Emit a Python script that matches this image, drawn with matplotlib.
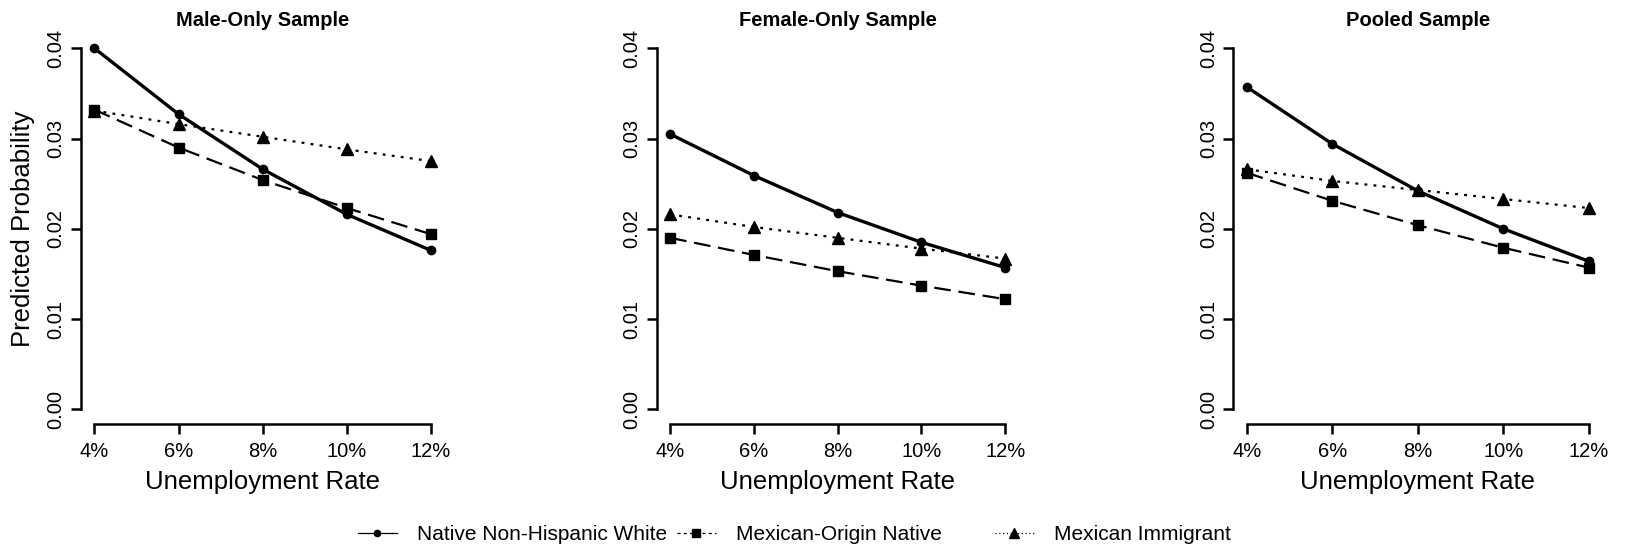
import matplotlib.pyplot as plt
from matplotlib.lines import Line2D

plt.rcParams['font.family'] = ['Liberation Sans', 'DejaVu Sans']

rates = [4, 6, 8, 10, 12]
rate_labels = ['4%', '6%', '8%', '10%', '12%']
y_ticks = [0.00, 0.01, 0.02, 0.03, 0.04]
y_tick_labels = ['0.00', '0.01', '0.02', '0.03', '0.04']

panel_titles = ['Male-Only Sample', 'Female-Only Sample', 'Pooled Sample']
series_names = ['Native Non-Hispanic White', 'Mexican-Origin Native', 'Mexican Immigrant']

# predicted probabilities
male_white = [0.0400, 0.0327, 0.0266, 0.0216, 0.0176]
male_mexnative = [0.0332, 0.0290, 0.0254, 0.0223, 0.0194]
male_immigrant = [0.0331, 0.0316, 0.0302, 0.0288, 0.0275]

female_white = [0.0305, 0.0259, 0.0218, 0.0185, 0.0157]
female_mexnative = [0.0190, 0.0171, 0.0153, 0.0137, 0.0122]
female_immigrant = [0.0216, 0.0202, 0.0190, 0.0178, 0.0167]

pooled_white = [0.0357, 0.0294, 0.0242, 0.0200, 0.0164]
pooled_mexnative = [0.0262, 0.0231, 0.0204, 0.0179, 0.0157]
pooled_immigrant = [0.0266, 0.0253, 0.0243, 0.0233, 0.0223]

panels = [
    (male_white, male_mexnative, male_immigrant),
    (female_white, female_mexnative, female_immigrant),
    (pooled_white, pooled_mexnative, pooled_immigrant),
]

styles = [
    dict(linestyle='-', linewidth=2.4, marker='o', markersize=6),
    dict(linestyle=(0, (7.5, 3.5)), linewidth=1.6, marker='s', markersize=7.5),
    dict(linestyle=(0, (1.3, 2.8)), linewidth=1.6, marker='^', markersize=8),
]
# thin handles in the legend, like the original
legend_styles = [
    dict(linestyle='-', linewidth=0.9, marker='o', markersize=4.5),
    dict(linestyle=(0, (2.5, 2.5)), linewidth=0.9, marker='s', markersize=5.5),
    dict(linestyle=(0, (1, 2)), linewidth=0.9, marker='^', markersize=6.5),
]

W, H = 1650, 557
fig = plt.figure(figsize=(W / 100, H / 100), dpi=100)

# axes boxes in pixels: left, right
boxes = [(81, 444.5), (656.7, 1018.7), (1233.3, 1602.4)]
top_px, bottom_px = 33.9, 423.7

for i, (vals, title, (l, r)) in enumerate(zip(panels, panel_titles, boxes)):
    ax = fig.add_axes([l / W, 1 - bottom_px / H, (r - l) / W, (bottom_px - top_px) / H])
    for v, st in zip(vals, styles):
        ax.plot(rates, v, color='black', **st)
    ax.set_xlim(3.68, 12.32)
    ax.set_ylim(-0.0016, 0.0416)
    ax.set_xticks(rates)
    ax.set_xticklabels(rate_labels)
    ax.set_yticks(y_ticks)
    ax.set_yticklabels(y_tick_labels, rotation=90, va='center')
    for s in ['top', 'right']:
        ax.spines[s].set_visible(False)
    ax.spines['left'].set_bounds(0, 0.04)
    ax.spines['bottom'].set_bounds(4, 12)
    for s in ['left', 'bottom']:
        ax.spines[s].set_linewidth(1.8)
    ax.tick_params(width=1.8, length=7, labelsize=14.5, pad=4)
    ax.tick_params(axis='x', pad=6)
    ax.set_title(title, fontsize=14.5, fontweight='bold', pad=6)
    ax.set_xlabel('Unemployment Rate', fontsize=18.5, va='center')
    ax.xaxis.set_label_coords(0.5, -0.149)
    if i == 0:
        ax.set_ylabel('Predicted Probability', fontsize=18.5, va='center')
        ax.yaxis.set_label_coords(-0.16, 0.5)

legend_x = [358, 677, 995]
for name, st, lx in zip(series_names, legend_styles, legend_x):
    h = Line2D([], [], color='black', **st)
    fig.legend([h], [name], loc='center left', bbox_to_anchor=(lx / W, 1 - 535 / H),
               frameon=False, fontsize=15, borderpad=0, borderaxespad=0,
               handlelength=1.85, handletextpad=1.0)

fig.savefig('out.png', dpi=100)
